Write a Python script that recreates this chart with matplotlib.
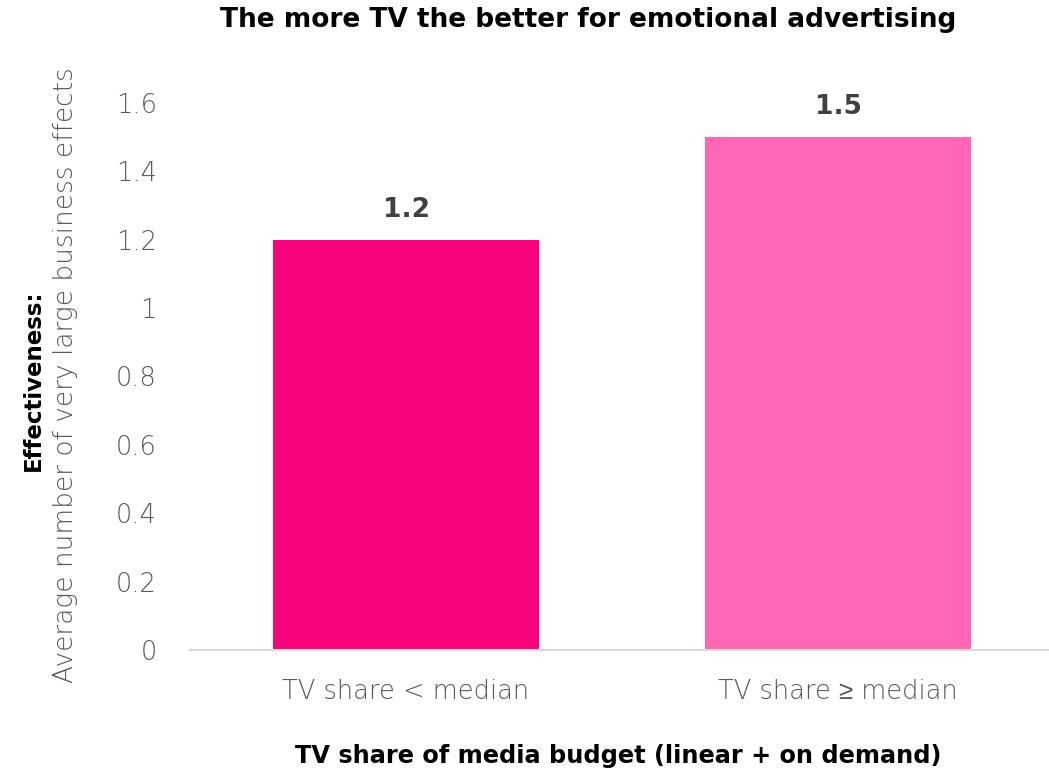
import matplotlib.pyplot as plt

# Data
categories = ["TV share < median", "TV share \u2265 median"]
values = [1.2, 1.5]
bar_colors = ["#F8027E", "#FF66B3"]
yticks = [0, 0.2, 0.4, 0.6, 0.8, 1, 1.2, 1.4, 1.6]
ytick_labels = ["0", "0.2", "0.4", "0.6", "0.8", "1", "1.2", "1.4", "1.6"]

fonts = ['DejaVu Sans', 'Liberation Sans', 'Noto Sans CJK SC']
plt.rcParams['font.family'] = fonts

fig = plt.figure(figsize=(10.49, 7.72), dpi=100)
ax = fig.add_axes([190 / 1049, 1 - 650 / 772, 864 / 1049, (650 - 103) / 772])

x = list(range(len(categories)))
ax.bar(x, values, width=0.616, color=bar_colors)

# Value labels above bars
for xi, v in zip(x, values):
    ax.text(xi, v + 0.05, f"{v:.1f}", ha='center', va='bottom', fontsize=19,
            fontweight='bold', color='#404040', clip_on=False)

ax.set_xlim(-0.5, 1.5)
ax.set_ylim(0, 1.6)
ax.set_yticks(yticks)
ax.set_yticklabels(ytick_labels, fontsize=18.5, color='#595959', fontweight='light')
ax.set_xticks(x)
ax.set_xticklabels(categories, fontsize=18.5, color='#595959', fontweight='light',
                   family=fonts)
ax.tick_params(axis='both', length=0)
ax.tick_params(axis='y', pad=24)
ax.tick_params(axis='x', pad=21)

for side in ['top', 'right', 'left']:
    ax.spines[side].set_visible(False)
ax.spines['bottom'].set_color('#d9d9d9')
ax.spines['bottom'].set_linewidth(1.5)

fig.text(588 / 1049, 1 - 20 / 772, "The more TV the better for emotional advertising",
         ha='center', va='center', fontsize=19, fontweight='bold', color='black')
fig.text(618 / 1049, 1 - 756 / 772, "TV share of media budget (linear + on demand)",
         ha='center', va='center', fontsize=17.3, fontweight='bold', color='black')

# Two-line y-axis title
fig.text(33 / 1049, 1 - 380 / 772, "Effectiveness:", rotation=90, ha='center', va='center',
         fontsize=16.5, fontweight='bold', color='black')
fig.text(66 / 1049, 1 - 375 / 772, "Average number of very large business effects", rotation=90,
         ha='center', va='center', fontsize=19, fontweight='light', color='#595959')

fig.savefig("out.png", dpi=100)
